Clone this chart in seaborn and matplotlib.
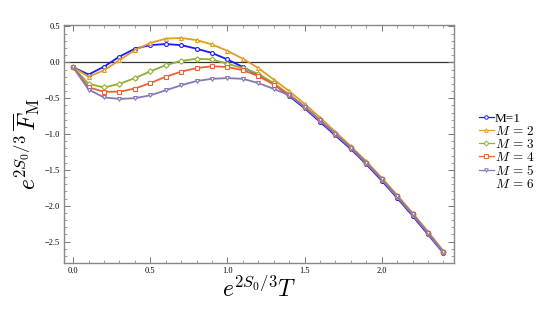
import numpy as np
import pandas as pd
import matplotlib
matplotlib.use("Agg")
import matplotlib.pyplot as plt
import seaborn as sns
from matplotlib.lines import Line2D
from matplotlib.ticker import MultipleLocator

# ----------- DONNÉES ---------------------------------
T = [0.0, 0.1, 0.2, 0.3, 0.4, 0.5, 0.6, 0.7, 0.8, 0.9, 1.0, 1.1, 1.2,
     1.3, 1.4, 1.5, 1.6, 1.7, 1.8, 1.9, 2.0, 2.1, 2.2, 2.3, 2.4]

F_m1 = [-0.07, -0.17, -0.06, 0.08, 0.19, 0.24, 0.255, 0.24, 0.19, 0.13, 0.04, -0.065, -0.18,
        -0.30, -0.47, -0.64, -0.83, -1.02, -1.21, -1.42, -1.65, -1.89, -2.14, -2.40, -2.66]
F_m2 = [-0.07, -0.20, -0.11, 0.03, 0.17, 0.27, 0.33, 0.34, 0.31, 0.25, 0.16, 0.05, -0.08,
        -0.24, -0.40, -0.58, -0.77, -0.97, -1.17, -1.38, -1.61, -1.85, -2.10, -2.36, -2.63]
F_m3 = [-0.07, -0.30, -0.35, -0.30, -0.22, -0.125, -0.04, 0.02, 0.05, 0.04, -0.02, -0.08, -0.16,
        -0.29, -0.45, -0.62, -0.81, -1.00, -1.19, -1.40, -1.63, -1.87, -2.12, -2.38, -2.65]
F_m4 = [-0.07, -0.35, -0.41, -0.41, -0.365, -0.29, -0.20, -0.13, -0.08, -0.055, -0.065, -0.11, -0.19,
        -0.31, -0.45, -0.62, -0.81, -1.00, -1.19, -1.40, -1.63, -1.87, -2.12, -2.38, -2.65]
F_m5 = [-0.07, -0.38, -0.49, -0.51, -0.50, -0.46, -0.39, -0.32, -0.26, -0.23, -0.22, -0.23, -0.29,
        -0.37, -0.46, -0.62, -0.81, -1.00, -1.19, -1.40, -1.63, -1.87, -2.12, -2.38, -2.65]

series = {'1': F_m1, '2': F_m2, '3': F_m3, '4': F_m4, '5': F_m5}
labels = ['M=1', '$M\\,=\\,2$', '$M\\,=\\,3$', '$M\\,=\\,4$', '$M\\,=\\,5$', '$M\\,=\\,6$']

couleurs = {'1': '#1a1aff', '2': '#e19c24', '3': '#8fb032', '4': '#eb6235', '5': '#8778b3'}
marqueurs = {'1': 'o', '2': '^', '3': 'D', '4': 's', '5': 'v'}

# ----------- TRACÉ -------------
plt.rcParams['mathtext.fontset'] = 'cm'
plt.rcParams['font.family'] = 'Liberation Serif'

fig = plt.figure(figsize=(5.42, 3.17), dpi=100)
ax = fig.add_axes([0.118, 0.170, 0.720, 0.751])

ax.axhline(0, color='#333333', lw=0.9, zorder=1)

# Une courbe par valeur de M
for m, vals in series.items():
    sns.lineplot(x=T, y=vals, color=couleurs[m], marker=marqueurs[m], ax=ax,
                 lw=1.3, markersize=2.8, markerfacecolor='white',
                 markeredgecolor=couleurs[m], markeredgewidth=0.8, linestyle='-')

ax.set_xlim(-0.06, 2.47)
ax.set_ylim(-2.8, 0.52)
ax.xaxis.set_major_locator(MultipleLocator(0.5))
ax.xaxis.set_minor_locator(MultipleLocator(0.1))
ax.yaxis.set_major_locator(MultipleLocator(0.5))
ax.yaxis.set_minor_locator(MultipleLocator(0.1))
ax.tick_params(which='both', direction='in', top=True, right=True, color='#777777',
               labelsize=6, pad=3)
ax.tick_params(which='major', length=4, width=0.7)
ax.tick_params(which='minor', length=2, width=0.5)
for s in ax.spines.values():
    s.set_color('#888888')
    s.set_linewidth(1.0)

ax.set_xlabel('$e^{2S_0/3}T$', fontsize=17, labelpad=0)
ax.set_ylabel('$e^{2S_0/3}\\,\\overline{F}_{\\mathrm{M}}$', fontsize=17, labelpad=2)

# Légende (M = 6 sans marqueur, comme sur l'original)
handles = [Line2D([], [], color=couleurs[m], marker=marqueurs[m], lw=0.9, markersize=2.5,
                  markerfacecolor='white', markeredgewidth=0.7) for m in series]
handles.append(Line2D([], [], color='none'))
fig.legend(handles, labels, loc='upper left', bbox_to_anchor=(0.872, 0.665),
           frameon=False, fontsize=9.5, handlelength=1.1, handletextpad=0.1,
           labelspacing=0.0, borderpad=0)

fig.savefig('out.png', dpi=100)
